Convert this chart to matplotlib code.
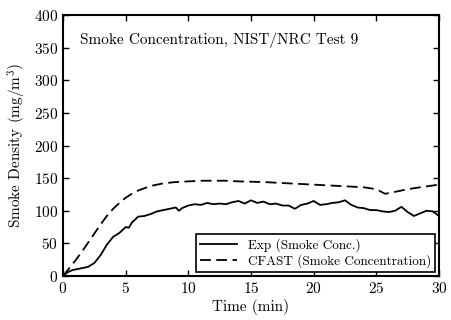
import numpy as np
import matplotlib
matplotlib.use("Agg")
import matplotlib.pyplot as plt

plt.rcParams["font.family"] = "serif"
plt.rcParams["font.serif"] = ["cmr10"]
plt.rcParams["mathtext.fontset"] = "cm"
plt.rcParams["axes.formatter.use_mathtext"] = True

# experimental data (Smoke Conc.)
t_exp = [0, 0.25, 0.5, 0.75, 1, 1.5, 2, 2.5, 3, 3.5, 4, 4.5, 5, 5.25, 5.5, 6, 6.5,
         7, 7.5, 8, 8.5, 9, 9.25, 9.5, 10, 10.5, 11, 11.5, 12, 12.5, 13, 13.5,
         14, 14.5, 15, 15.5, 16, 16.5, 17, 17.5, 18, 18.5, 19, 19.5, 20, 20.5,
         21, 21.5, 22, 22.5, 23, 23.5, 24, 24.5, 25, 25.5, 26, 26.5, 27, 27.5,
         28, 28.5, 29, 29.5, 30]
exp = [0, 4, 7, 9, 10, 12, 14, 20, 32, 48, 60, 66, 75, 74, 82, 91, 92,
       95, 99, 101, 103, 105, 100, 104, 108, 110, 109, 112, 110, 111, 110, 113,
       115, 111, 116, 112, 114, 110, 111, 108, 108, 103, 109, 111, 115, 109,
       110, 112, 113, 116, 109, 105, 104, 101, 101, 99, 98, 100, 106, 98,
       92, 96, 100, 99, 92]

# model (CFAST)
t_cfast = [0, 0.5, 1, 1.5, 2, 2.5, 3, 3.5, 4, 4.5, 5, 5.5, 6, 7, 8, 9, 10, 11,
           12, 13, 14, 16, 18, 20, 22, 24, 25, 25.7, 26.5, 27.5, 28.5, 30]
cfast = [0, 12, 24, 37, 51, 65, 79, 92, 103, 112, 120, 126, 131, 138, 142, 144,
         145, 146, 146, 146, 145, 144, 142, 140, 138, 136, 133, 126, 129, 133,
         136, 140]

fig = plt.figure(figsize=(4.51, 3.2), dpi=100)
ax = fig.add_axes([63 / 451, 44 / 320, 376 / 451, 261 / 320])

ax.plot(t_exp, exp, "k-", lw=1.3, label="Exp (Smoke Conc.)")
ax.plot(t_cfast, cfast, "k--", lw=1.3, dashes=(6, 3), label="CFAST (Smoke Concentration)")

ax.set_xlim(0, 30)
ax.set_ylim(0, 400)
ax.set_xticks(range(0, 31, 5))
ax.set_yticks(range(0, 401, 50))
ax.tick_params(direction="in", top=True, right=True, labelsize=11, length=4, width=1)
for s in ax.spines.values():
    s.set_linewidth(1.5)

ax.set_xlabel("Time (min)", fontsize=11, labelpad=2)
ax.set_ylabel("Smoke Density (mg/m$^3$)", fontsize=11, labelpad=4)
ax.text(0.045, 0.905, "Smoke Concentration, NIST/NRC Test 9", transform=ax.transAxes,
        fontsize=11, va="center")

leg = ax.legend(loc="lower right", fontsize=9.5, fancybox=False, framealpha=1,
                edgecolor="k", borderpad=0.3, labelspacing=0.2, handlelength=2.8,
                borderaxespad=0.3)
leg.get_frame().set_linewidth(1.2)

fig.savefig("out.png", dpi=100)
